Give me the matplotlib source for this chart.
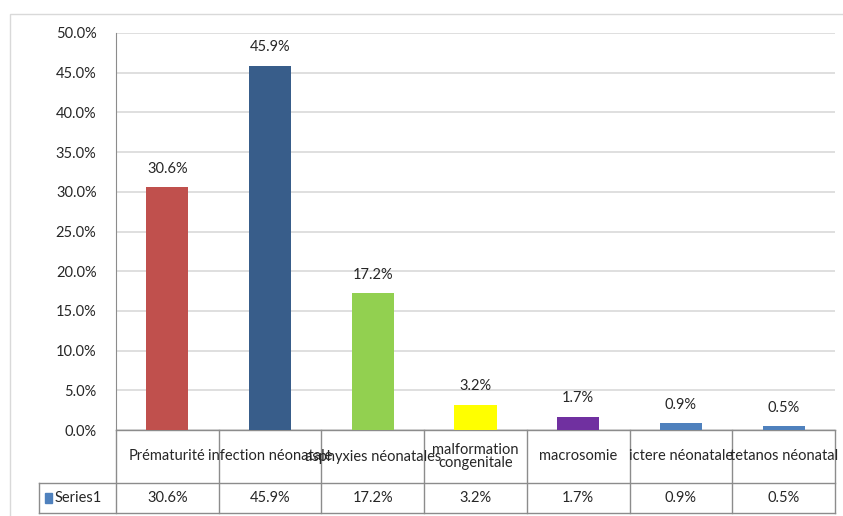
import matplotlib.pyplot as plt
from matplotlib.patches import Rectangle
from matplotlib.transforms import blended_transform_factory

categories = ['Prématurité', 'infection néonatale', 'asphyxies néonatales',
              'malformation\ncongenitale', 'macrosomie', 'ictere néonatale',
              'tetanos néonatal']
values = [30.6, 45.9, 17.2, 3.2, 1.7, 0.9, 0.5]
colors = ['#C0504D', '#385D8A', '#92D050', '#FFFF00', '#7030A0', '#4F81BD', '#4F81BD']
series_name = 'Series1'
yticks = [0, 5, 10, 15, 20, 25, 30, 35, 40, 45, 50]

plt.rcParams['font.family'] = ['Lato', 'DejaVu Sans']
text_col = '#262626'
line_col = '#8C8C8C'
fs = 10.5

fig = plt.figure(figsize=(8.43, 5.16), dpi=100)
fig.patches.append(Rectangle((10 / 843, -0.1), 2, (516 - 14) / 516 + 0.1,
                             transform=fig.transFigure, fill=False,
                             edgecolor='#D9D9D9', lw=1))

ax = fig.add_axes([116 / 843, 1 - 430 / 516, 719 / 843, 397 / 516])
x = list(range(len(values)))
ax.bar(x, values, width=0.41, color=colors, zorder=3)
ax.set_xlim(-0.5, len(values) - 0.5)
ax.set_ylim(0, 50)
ax.set_yticks(yticks)
ax.set_yticklabels([f'{v:.1f}%' for v in yticks], fontsize=fs, color=text_col)
ax.tick_params(axis='y', length=0, pad=14)
ax.set_xticks([])
ax.grid(axis='y', color='#D9D9D9', lw=1.2, zorder=0)
for s in ['top', 'right', 'bottom']:
    ax.spines[s].set_visible(False)
ax.spines['left'].set_color(line_col)

for xi, v in zip(x, values):
    ax.text(xi, v + 1.4, f'{v:.1f}%', ha='center', va='bottom',
            fontsize=fs, color=text_col)

# data table below the plot
tr = blended_transform_factory(ax.transData, ax.transAxes)
r1 = -53 / 397
r2 = -83 / 397
left = -0.5 - 77 / (719 / 7)
kw = dict(transform=tr, color=line_col, lw=1, clip_on=False)
ax.plot([-0.5, 6.5], [0, 0], **kw)
ax.plot([left, 6.5], [r1, r1], **kw)
ax.plot([left, 6.5], [r2, r2], **kw)
ax.plot([left, left], [r1, r2], **kw)
for b in range(len(values) + 1):
    ax.plot([b - 0.5, b - 0.5], [0, r2], **kw)

for xi, c, v in zip(x, categories, values):
    ax.text(xi, r1 / 2, c, transform=tr, ha='center', va='center',
            fontsize=fs, color=text_col, linespacing=1.0, clip_on=False)
    ax.text(xi, (r1 + r2) / 2, f'{v:.1f}%', transform=tr, ha='center',
            va='center', fontsize=fs, color=text_col, clip_on=False)

ax.add_patch(Rectangle((left + 0.06, (r1 + r2) / 2 - 0.012), 0.07, 0.024,
                       transform=tr, color='#4F81BD', clip_on=False))
ax.text(left + 0.15, (r1 + r2) / 2, series_name, transform=tr, ha='left',
        va='center', fontsize=fs, color=text_col, clip_on=False)

fig.savefig('out.png', dpi=100)
